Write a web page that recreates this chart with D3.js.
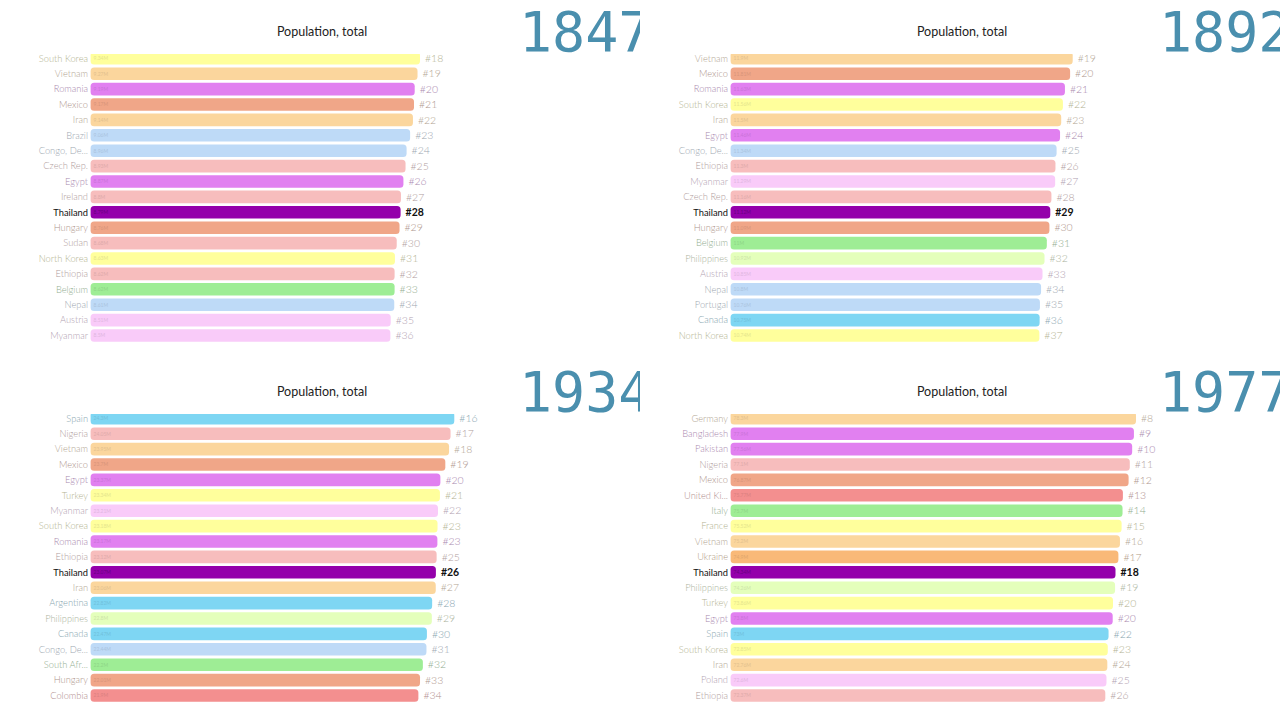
<!DOCTYPE html>
<html>
<head>
<meta charset="utf-8">
<script src="https://cdn.jsdelivr.net/npm/d3@7"></script>
<style>
  html, body { margin: 0; padding: 0; background: #fff; }
  #wrap { width: 1280px; height: 720px; display: flex; flex-wrap: wrap; }
  svg { display: block; overflow: hidden; }
</style>
</head>
<body>
<div id="wrap"></div>
<script>
// ---------- DATA ----------
const years = ["1847", "1892", "1934", "1977"];
const chartTitle = "Population, total";

const countries1847 = ["South Korea","Vietnam","Romania","Mexico","Iran","Brazil","Congo, De...","Czech Rep.","Egypt","Ireland","Thailand","Hungary","Sudan","North Korea","Ethiopia","Belgium","Nepal","Austria","Myanmar"];
const values1847 = [9.34,9.27,9.19,9.17,9.14,9.06,8.96,8.93,8.87,8.80,8.79,8.76,8.68,8.63,8.62,8.62,8.61,8.51,8.50];
const ranks1847 = [18,19,20,21,22,23,24,25,26,27,28,29,30,31,32,33,34,35,36];

const countries1892 = ["Vietnam","Mexico","Romania","South Korea","Iran","Egypt","Congo, De...","Ethiopia","Myanmar","Czech Rep.","Thailand","Hungary","Belgium","Philippines","Austria","Nepal","Portugal","Canada","North Korea"];
const values1892 = [11.90,11.81,11.63,11.56,11.50,11.46,11.34,11.30,11.29,11.16,11.12,11.09,11.00,10.92,10.85,10.80,10.76,10.75,10.74];
const ranks1892 = [19,20,21,22,23,24,25,26,27,28,29,30,31,32,33,34,35,36,37];

const countries1934 = ["Spain","Nigeria","Vietnam","Mexico","Egypt","Turkey","Myanmar","South Korea","Romania","Ethiopia","Thailand","Iran","Argentina","Philippines","Canada","Congo, De...","South Afr...","Hungary","Colombia"];
const values1934 = [24.30,24.05,23.95,23.70,23.37,23.34,23.21,23.18,23.17,23.12,23.07,23.06,22.82,22.80,22.47,22.44,22.20,22.01,21.90];
const ranks1934 = [16,17,18,19,20,21,22,23,23,25,26,27,28,29,30,31,32,33,34];

const countries1977 = ["Germany","Bangladesh","Pakistan","Nigeria","Mexico","United Ki...","Italy","France","Vietnam","Ukraine","Thailand","Philippines","Turkey","Egypt","Spain","South Korea","Iran","Poland","Ethiopia"];
const values1977 = [78.30,77.90,77.56,77.10,76.87,75.77,75.70,75.52,75.20,74.90,74.34,74.26,73.86,73.80,73.00,72.85,72.76,72.60,72.37];
const ranks1977 = [8,9,10,11,12,13,14,15,16,17,18,19,20,20,22,23,24,25,26];

const highlight = "Thailand";

// colour per country (style)
const countryColor = {
  "South Korea":"#ffff9c","North Korea":"#ffff9c","Turkey":"#ffff9c","France":"#ffff9c",
  "Vietnam":"#fbd69d","Iran":"#fbd69d","Germany":"#fbd69d",
  "Romania":"#e180f0","Egypt":"#e180f0","Bangladesh":"#e180f0","Pakistan":"#e180f0",
  "Mexico":"#f0a688","Hungary":"#f0a688",
  "Brazil":"#bedaf7","Congo, De...":"#bedaf7","Nepal":"#bedaf7","Portugal":"#bedaf7",
  "Czech Rep.":"#f7bdbd","Ireland":"#f7bdbd","Sudan":"#f7bdbd","Ethiopia":"#f7bdbd","Nigeria":"#f7bdbd",
  "Thailand":"#9400ab",
  "Belgium":"#9eed95","Italy":"#9eed95","South Afr...":"#9eed95",
  "Austria":"#f9cbf9","Myanmar":"#f9cbf9","Poland":"#f9cbf9",
  "Philippines":"#e4ffbb",
  "Canada":"#7ed6f3","Spain":"#7ed6f3","Argentina":"#7ed6f3",
  "United Ki...":"#f38f8f","Colombia":"#f38f8f",
  "Ukraine":"#f9b978"
};

const panels = [
  {year: years[0], countries: countries1847, values: values1847, ranks: ranks1847, barMax: 329.4},
  {year: years[1], countries: countries1892, values: values1892, ranks: ranks1892, barMax: 342.1},
  {year: years[2], countries: countries1934, values: values1934, ranks: ranks1934, barMax: 363.7},
  {year: years[3], countries: countries1977, values: values1977, ranks: ranks1977, barMax: 405.4}
];

// ---------- DRAW ----------
const W = 640, H = 360;
const x0 = 90.6;

panels.forEach((p, pi) => {
  const svg = d3.select("#wrap").append("svg").attr("width", W).attr("height", H);

  const clipId = "clip" + pi;
  svg.append("defs").append("clipPath").attr("id", clipId)
    .append("rect").attr("x", 0).attr("y", 54).attr("width", W).attr("height", 300);

  // title
  svg.append("text")
    .attr("x", 322).attr("y", 36)
    .attr("text-anchor", "middle")
    .style("font-family", "Lato, 'Open Sans', sans-serif")
    .style("font-size", "12.5px")
    .style("fill", "#222")
    .text(chartTitle);

  // year (partly cut by the panel edge, as in the reference)
  svg.append("text")
    .attr("x", 519).attr("y", 50.5)
    .style("font-family", "'DejaVu Sans Mono', monospace")
    .style("font-size", "55px")
    .style("fill", "#4a8fae")
    .text(p.year);

  const idx = d3.range(p.countries.length);
  const y = d3.scaleBand().domain(idx).range([50.6, 50.6 + 19 * 15.4])
    .paddingInner(0.18).paddingOuter(0.09);
  const x = d3.scaleLinear().domain([0, d3.max(p.values)]).range([0, p.barMax]);

  const labelColor = (c) => c === highlight ? "#111" :
    d3.interpolateRgb(countryColor[c] || "#ccc", "#8c8c8c")(0.66);

  const g = svg.append("g").attr("clip-path", `url(#${clipId})`);

  const rows = g.selectAll("g.row").data(idx).join("g").attr("class", "row");

  rows.append("rect")
    .attr("x", x0)
    .attr("y", i => y(i))
    .attr("width", i => x(p.values[i]))
    .attr("height", y.bandwidth())
    .attr("rx", 3.5).attr("ry", 3.5)
    .attr("fill", i => countryColor[p.countries[i]] || "#ccc");

  // value labels inside bar
  rows.append("text")
    .attr("x", x0 + 3)
    .attr("y", i => y(i) + y.bandwidth() / 2 + 1.8)
    .style("font-family", "Lato, sans-serif")
    .style("font-size", "5px")
    .style("fill", i => p.countries[i] === highlight ? "#6a0080" :
        d3.color(countryColor[p.countries[i]] || "#ccc").darker(0.3))
    .text(i => p.values[i].toFixed(2).replace(/\.?0+$/, "") + "M");

  // country labels
  svg.selectAll("text.country").data(idx).join("text")
    .attr("class", "country")
    .attr("x", 88)
    .attr("y", i => y(i) + y.bandwidth() / 2 + 3.2)
    .attr("text-anchor", "end")
    .style("font-family", "Lato, sans-serif")
    .style("font-size", "9.3px")
    .style("font-weight", i => p.countries[i] === highlight ? 400 : 300)
    .style("fill", i => labelColor(p.countries[i]))
    .text(i => p.countries[i]);

  // rank labels
  svg.selectAll("text.rank").data(idx).join("text")
    .attr("class", "rank")
    .attr("x", i => x0 + x(p.values[i]) + 5)
    .attr("y", i => y(i) + y.bandwidth() / 2 + 3.7)
    .style("font-family", "Lato, sans-serif")
    .style("font-size", "10.5px")
    .style("font-weight", i => p.countries[i] === highlight ? 700 : 300)
    .style("fill", i => labelColor(p.countries[i]))
    .text(i => "#" + p.ranks[i]);
});
</script>
</body>
</html>
